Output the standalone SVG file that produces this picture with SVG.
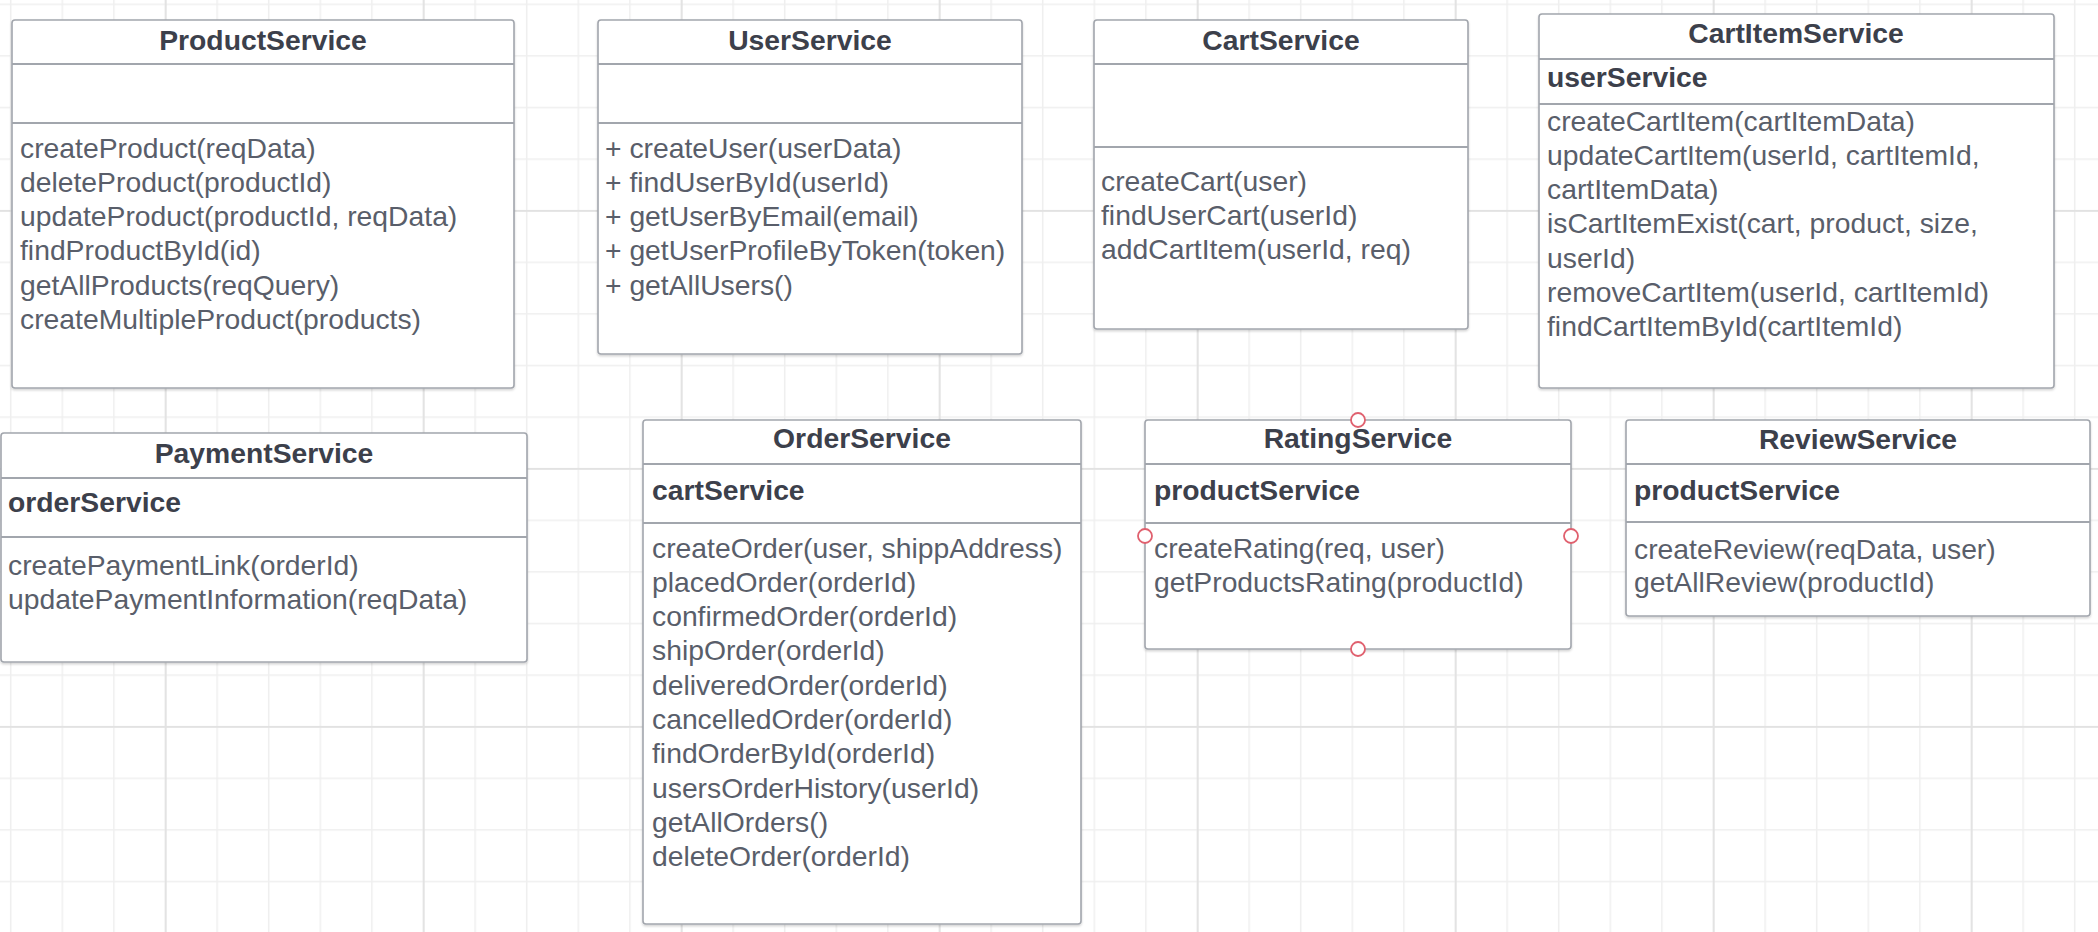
<svg xmlns="http://www.w3.org/2000/svg" width="2098" height="932" viewBox="0 0 2098 932">
<style>
.box{fill:#ffffff;stroke:#a2a6ad;stroke-width:1.6}
.div{stroke:#a2a6ad;stroke-width:2}
.t{font-family:"Liberation Sans",Arial,sans-serif;font-size:28.3px;font-weight:bold;fill:#3c404b;text-anchor:middle}
.a{font-family:"Liberation Sans",Arial,sans-serif;font-size:28.3px;font-weight:bold;fill:#3c404b}
.m{font-family:"Liberation Sans",Arial,sans-serif;font-size:28.3px;fill:#595e6a}
.pt{fill:#ffffff;stroke:#e0606e;stroke-width:1.8}
</style>
<defs>
<pattern id="minor" patternUnits="userSpaceOnUse" x="9.95" y="3.55" width="51.6" height="51.6">
<rect x="0" y="0" width="1.5" height="51.6" fill="#efefef"/>
<rect x="0" y="0" width="51.6" height="1.5" fill="#efefef"/>
</pattern>
<pattern id="major" patternUnits="userSpaceOnUse" x="164.75" y="209.95" width="258" height="258">
<rect x="0" y="0" width="1.8" height="258" fill="#e2e2e2"/>
<rect x="0" y="0" width="258" height="1.8" fill="#e2e2e2"/>
</pattern>
<filter id="sh" x="-5%" y="-5%" width="110%" height="110%">
<feDropShadow dx="0" dy="1.5" stdDeviation="1.2" flood-color="#000" flood-opacity="0.18"/>
</filter>
</defs>
<rect x="0" y="0" width="2098" height="932" fill="#ffffff"/>
<rect x="0" y="0" width="2098" height="932" fill="url(#minor)"/>
<rect x="0" y="0" width="2098" height="932" fill="url(#major)"/>

<g id="connectors"></g>

<g id="ProductService">
<rect class="box" x="12" y="20" width="502" height="368" rx="3" filter="url(#sh)"/>
<line class="div" x1="12" y1="64" x2="514" y2="64"/>
<line class="div" x1="12" y1="123" x2="514" y2="123"/>
<text class="t" x="263" y="50">ProductService</text>
<text class="m" x="20" y="157.5">createProduct(reqData)</text>
<text class="m" x="20" y="191.8">deleteProduct(productId)</text>
<text class="m" x="20" y="226.1">updateProduct(productId, reqData)</text>
<text class="m" x="20" y="260.4">findProductById(id)</text>
<text class="m" x="20" y="294.7">getAllProducts(reqQuery)</text>
<text class="m" x="20" y="329">createMultipleProduct(products)</text>
</g>

<g id="UserService">
<rect class="box" x="598" y="20" width="424" height="334" rx="3" filter="url(#sh)"/>
<line class="div" x1="598" y1="64" x2="1022" y2="64"/>
<line class="div" x1="598" y1="123" x2="1022" y2="123"/>
<text class="t" x="810" y="50">UserService</text>
<text class="m" x="605" y="157.5">+ createUser(userData)</text>
<text class="m" x="605" y="191.8">+ findUserById(userId)</text>
<text class="m" x="605" y="226.1">+ getUserByEmail(email)</text>
<text class="m" x="605" y="260.4">+ getUserProfileByToken(token)</text>
<text class="m" x="605" y="294.7">+ getAllUsers()</text>
</g>

<g id="CartService">
<rect class="box" x="1094" y="20" width="374" height="309" rx="3" filter="url(#sh)"/>
<line class="div" x1="1094" y1="64" x2="1468" y2="64"/>
<line class="div" x1="1094" y1="147" x2="1468" y2="147"/>
<text class="t" x="1281" y="50">CartService</text>
<text class="m" x="1101" y="190.5">createCart(user)</text>
<text class="m" x="1101" y="224.8">findUserCart(userId)</text>
<text class="m" x="1101" y="259.1">addCartItem(userId, req)</text>
</g>

<g id="CartItemService">
<rect class="box" x="1539" y="14" width="515" height="374" rx="3" filter="url(#sh)"/>
<line class="div" x1="1539" y1="59" x2="2054" y2="59"/>
<line class="div" x1="1539" y1="104" x2="2054" y2="104"/>
<text class="t" x="1796" y="43">CartItemService</text>
<text class="a" x="1547" y="87">userService</text>
<text class="m" x="1547" y="130.5">createCartItem(cartItemData)</text>
<text class="m" x="1547" y="164.8">updateCartItem(userId, cartItemId,</text>
<text class="m" x="1547" y="199.1">cartItemData)</text>
<text class="m" x="1547" y="233.4">isCartItemExist(cart, product, size,</text>
<text class="m" x="1547" y="267.7">userId)</text>
<text class="m" x="1547" y="302">removeCartItem(userId, cartItemId)</text>
<text class="m" x="1547" y="336.3">findCartItemById(cartItemId)</text>
</g>

<g id="PaymentService">
<rect class="box" x="1" y="433" width="526" height="229" rx="3" filter="url(#sh)"/>
<line class="div" x1="1" y1="478" x2="527" y2="478"/>
<line class="div" x1="1" y1="537" x2="527" y2="537"/>
<text class="t" x="264" y="463">PaymentService</text>
<text class="a" x="8" y="512">orderService</text>
<text class="m" x="8" y="574.5">createPaymentLink(orderId)</text>
<text class="m" x="8" y="608.8">updatePaymentInformation(reqData)</text>
</g>

<g id="OrderService">
<rect class="box" x="643" y="420" width="438" height="504" rx="3" filter="url(#sh)"/>
<line class="div" x1="643" y1="464" x2="1081" y2="464"/>
<line class="div" x1="643" y1="523" x2="1081" y2="523"/>
<text class="t" x="862" y="448">OrderService</text>
<text class="a" x="652" y="500">cartService</text>
<text class="m" x="652" y="557.5">createOrder(user, shippAddress)</text>
<text class="m" x="652" y="591.8">placedOrder(orderId)</text>
<text class="m" x="652" y="626.1">confirmedOrder(orderId)</text>
<text class="m" x="652" y="660.4">shipOrder(orderId)</text>
<text class="m" x="652" y="694.7">deliveredOrder(orderId)</text>
<text class="m" x="652" y="729">cancelledOrder(orderId)</text>
<text class="m" x="652" y="763.3">findOrderById(orderId)</text>
<text class="m" x="652" y="797.6">usersOrderHistory(userId)</text>
<text class="m" x="652" y="831.9">getAllOrders()</text>
<text class="m" x="652" y="866.2">deleteOrder(orderId)</text>
</g>

<g id="RatingService">
<rect class="box" x="1145" y="420" width="426" height="229" rx="3" filter="url(#sh)"/>
<line class="div" x1="1145" y1="464" x2="1571" y2="464"/>
<line class="div" x1="1145" y1="523" x2="1571" y2="523"/>
<text class="t" x="1358" y="448">RatingService</text>
<text class="a" x="1154" y="500">productService</text>
<text class="m" x="1154" y="557.5">createRating(req, user)</text>
<text class="m" x="1154" y="591.8">getProductsRating(productId)</text>
<circle class="pt" cx="1358" cy="420" r="7"/>
<circle class="pt" cx="1145" cy="536" r="7"/>
<circle class="pt" cx="1571" cy="536" r="7"/>
<circle class="pt" cx="1358" cy="649" r="7"/>
</g>

<g id="ReviewService">
<rect class="box" x="1626" y="420" width="464" height="196" rx="3" filter="url(#sh)"/>
<line class="div" x1="1626" y1="464" x2="2090" y2="464"/>
<line class="div" x1="1626" y1="522" x2="2090" y2="522"/>
<text class="t" x="1858" y="449">ReviewService</text>
<text class="a" x="1634" y="500">productService</text>
<text class="m" x="1634" y="558.5">createReview(reqData, user)</text>
<text class="m" x="1634" y="591.8">getAllReview(productId)</text>
</g>
</svg>
